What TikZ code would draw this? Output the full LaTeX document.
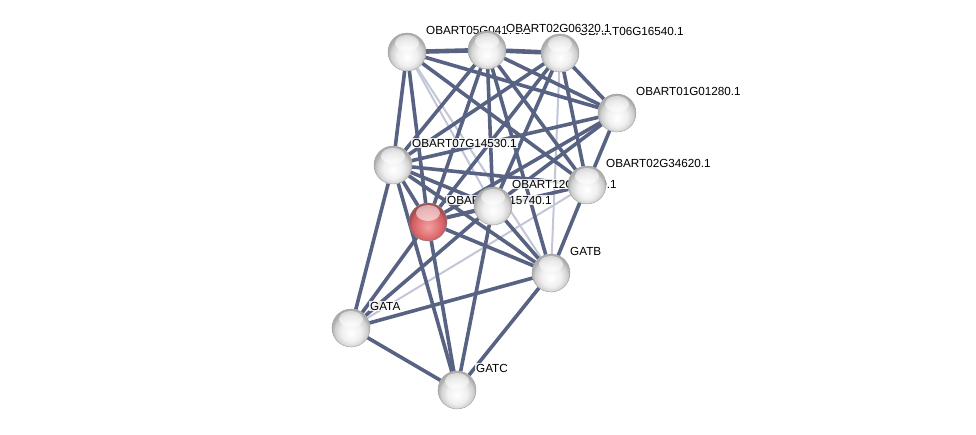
\documentclass[tikz,border=0pt]{standalone}
\usepackage{fontspec}
\setmainfont{Liberation Sans}
\definecolor{edgedark}{RGB}{88,98,130}
\definecolor{edgelight}{RGB}{194,198,214}
\pgfdeclarelayer{edges}
\pgfdeclarelayer{labels}
\pgfsetlayers{edges,labels,main}
\pgfdeclareradialshading{greyball}{\pgfpoint{0bp}{-7bp}}{color(0bp)=(white); color(13bp)=(white!94!black); color(21bp)=(white!82!black); color(25bp)=(white!68!black); color(50bp)=(white!68!black)}
\pgfdeclareradialshading{redball}{\pgfpoint{0bp}{-7bp}}{color(0bp)=(rgb,255:red,240;green,160;blue,160); color(13bp)=(rgb,255:red,228;green,118;blue,122); color(21bp)=(rgb,255:red,208;green,94;blue,98); color(25bp)=(rgb,255:red,165;green,76;blue,80); color(50bp)=(rgb,255:red,165;green,76;blue,80)}

\begin{document}
\begin{tikzpicture}[x=1pt,y=-1pt,
  ball/.style={circle,minimum size=38pt,inner sep=0pt,shading=greyball,draw=black!38,line width=.4pt,
    path picture={\fill[white,fill opacity=.55] ([yshift=-10pt]path picture bounding box.north) ellipse (12pt and 8pt);}},
  query/.style={ball,shading=redball,draw=black!50},
  lbl/.style={anchor=west,inner sep=1pt,fill=white,fill opacity=.85,text opacity=1,font=\fontsize{11.7}{13}\selectfont},
  edge/.style={draw=edgedark,line width=3.6pt},
  weak/.style={draw=edgelight,line width=2pt}]
\useasboundingbox (0,0) rectangle (976,435);

\node[ball] (a05) at (407,52) {};
\node[ball] (a02) at (487,50) {};
\node[ball] (a06) at (560,53) {};
\node[ball] (a01) at (617,113) {};
\node[ball] (a07) at (393,165) {};
\node[ball] (a34) at (587,185) {};
\node[ball] (a12) at (493,206) {};
\node[query] (a15) at (428,222) {};
\node[ball] (gatb) at (551,273) {};
\node[ball] (gata) at (351,328) {};
\node[ball] (gatc) at (457,390) {};

\begin{pgfonlayer}{labels}
\node[lbl] (a05l) at ([shift={(18,-22)}]a05.center) {OBART05G04170.1};
\node[lbl] (a06l) at ([shift={(18,-22)}]a06.center) {OBART06G16540.1};
\node[lbl,fill opacity=1] (a02l) at ([shift={(18,-22)}]a02.center) {OBART02G06320.1};
\node[lbl] (a01l) at ([shift={(18,-22)}]a01.center) {OBART01G01280.1};
\node[lbl] (a07l) at ([shift={(18,-22)}]a07.center) {OBART07G14530.1};
\node[lbl] (a34l) at ([shift={(18,-22)}]a34.center) {OBART02G34620.1};
\node[lbl] (a12l) at ([shift={(18,-22)}]a12.center) {OBART12G13050.1};
\node[lbl] (a15l) at ([shift={(18,-22)}]a15.center) {OBART03G15740.1};
\node[lbl] (gatbl) at ([shift={(18,-22)}]gatb.center) {GATB};
\node[lbl] (gatal) at ([shift={(18,-22)}]gata.center) {GATA};
\node[lbl] (gatcl) at ([shift={(18,-22)}]gatc.center) {GATC};
\end{pgfonlayer}

\begin{pgfonlayer}{edges}
\foreach \a/\b in {a05/a12,a05/gatb,a06/gatb,a34/gata,a34/a12}
  \draw[weak] (\a) -- (\b);
\draw[edge,line width=4.6pt] (a05) -- (a02);
\draw[edge,line width=4.6pt] (a02) -- (a06);
\foreach \a/\b in {a05/a01,a05/a07,a05/a15,a05/a34,
    a02/a01,a02/a07,a02/a15,a02/a12,a02/a34,a02/gatb,
    a06/a01,a06/a07,a06/a15,a06/a12,a06/a34,
    a01/a07,a01/a15,a01/a12,a01/a34,
    a07/a15,a07/a12,a07/a34,a07/gatb,a07/gata,a07/gatc,
    a34/a15,a34/gatb,a12/a15,a12/gatb,a12/gata,a12/gatc,
    a15/gatb,a15/gata,a15/gatc,gatb/gata,gatb/gatc,gata/gatc}
  \draw[edge] (\a) -- (\b);
\end{pgfonlayer}
\end{tikzpicture}
\end{document}
